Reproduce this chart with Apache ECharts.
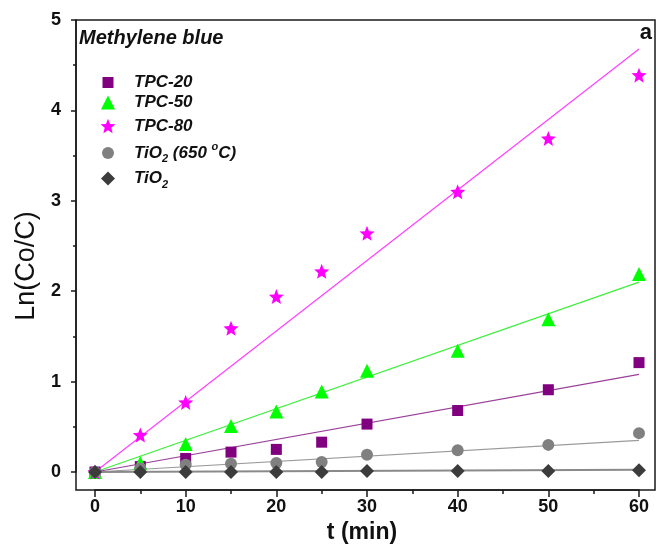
<!DOCTYPE html>
<html><head><meta charset="utf-8">
<script src="https://cdn.jsdelivr.net/npm/echarts@6/dist/echarts.min.js"></script>
<style>html,body{margin:0;padding:0;background:#fff}#c{width:659px;height:550px}</style>
</head><body><div id="c"></div>
<script>
// ---- data ----
const times = [0, 5, 10, 15, 20, 25, 30, 40, 50, 60];
const tpc20 = [0, 0.06, 0.15, 0.22, 0.25, 0.33, 0.53, 0.68, 0.91, 1.21];
const tpc50 = [0, 0.10, 0.31, 0.51, 0.67, 0.89, 1.12, 1.34, 1.69, 2.19];
const tpc80 = [0, 0.41, 0.77, 1.59, 1.94, 2.22, 2.64, 3.10, 3.69, 4.39];
const tio2650 = [0, 0.04, 0.08, 0.09, 0.10, 0.11, 0.19, 0.24, 0.30, 0.43];
const tio2 = [0, 0, 0, 0, 0, 0, 0.01, 0.01, 0.01, 0.02];
// linear fit lines (end points)
const fitTimes = [0, 60];
const fit20 = [0, 1.08];
const fit50 = [0, 2.10];
const fit80 = [0, 4.68];
const fit650 = [0, 0.35];
const fitTiO2 = [0, 0.025];
// tick labels
const xTickLabels = [0, 10, 20, 30, 40, 50, 60];
const yTickLabels = [0, 1, 2, 3, 4, 5];
const seriesNames = ['TPC-20', 'TPC-50', 'TPC-80', 'TiO2 (650 °C)', 'TiO2'];

// ---- styling ----
const STAR = 'path://M50,0L62.93,32.2L97.55,34.55L70.92,56.8L79.39,90.45L50,72L20.61,90.45L29.08,56.8L2.45,34.55L37.07,32.2Z';
const symbols = ['rect', 'triangle', STAR, 'circle', 'diamond'];
const symSizes = [11, 14, 15, 12, 14];
const colors = ['#800080', '#00ff00', '#ff00ff', '#808080', '#3c3c3c'];
const fitColors = ['#9a3f9a', '#3cf03c', '#ff40ff', '#9a9a9a', '#8a8a8a'];
const fitWidths = [1.2, 1.2, 1.2, 1.2, 2];
const legendTops = [74, 94, 117.5, 141.5, 170];
const LEGEND_ICON_CX = 108, LEGEND_TEXT_X = 134;
const FONT = 'Liberation Sans, Arial, sans-serif';
const INK = '#111';

const zip = (xs, ys) => xs.map((x, i) => [x, ys[i]]);
const pointSets = [tpc20, tpc50, tpc80, tio2650, tio2];
const fitSets = [fit20, fit50, fit80, fit650, fitTiO2];

const richMap = {
  'TPC-20': '{b|TPC-20}',
  'TPC-50': '{b|TPC-50}',
  'TPC-80': '{b|TPC-80}',
  'TiO2 (650 °C)': '{b|TiO}{s|2}{b| (650 }{p|o}{b|C)}',
  'TiO2': '{b|TiO}{s|2}'
};
const rich = {
  b: {fontSize: 17, fontWeight: 'bold', fontStyle: 'italic', fontFamily: FONT, color: INK},
  s: {fontSize: 11, fontWeight: 'bold', fontStyle: 'italic', fontFamily: FONT, color: INK, padding: [12, 0, 0, 0]},
  p: {fontSize: 11, fontWeight: 'bold', fontStyle: 'italic', fontFamily: FONT, color: INK, padding: [0, 0, 12, 0]}
};

const series = [];
seriesNames.forEach((n, i) => {
  series.push({
    name: 'fit ' + n, type: 'line', xAxisIndex: 0, yAxisIndex: 0,
    data: zip(fitTimes, fitSets[i]), showSymbol: false, symbol: 'none', clip: false,
    lineStyle: {color: fitColors[i], width: fitWidths[i]}, silent: true, z: 2
  });
});
seriesNames.forEach((n, i) => {
  series.push({
    name: n, type: 'scatter', xAxisIndex: 0, yAxisIndex: 0,
    data: zip(times, pointSets[i]), symbol: symbols[i], symbolSize: symSizes[i],
    itemStyle: {color: colors[i], opacity: 1}, clip: false, z: 3
  });
});

const legends = seriesNames.map((n, i) => ({
  data: [{name: n, icon: symbols[i]}],
  left: LEGEND_ICON_CX - symSizes[i] / 2, top: legendTops[i], padding: 0, orient: 'vertical',
  itemWidth: symSizes[i], itemHeight: symSizes[i], selectedMode: false,
  formatter: (name) => richMap[name],
  textStyle: {rich: rich, fontFamily: FONT,
              padding: [0, 0, 0, LEGEND_TEXT_X - (LEGEND_ICON_CX + symSizes[i] / 2 + 5)]}
}));

const tickStyle = {color: '#1a1a1a', width: 1.5};
const lineStyle = {color: '#1a1a1a', width: 1.5};

const option = {
  animation: false,
  backgroundColor: '#fff',
  title: [
    {text: 'Methylene blue', left: 79, top: 28, padding: 0,
     textStyle: {fontSize: 20, fontWeight: 'bold', fontStyle: 'italic', fontFamily: FONT, color: INK}},
    {text: 'a', right: 7, top: 22, padding: 0,
     textStyle: {fontSize: 22, fontWeight: 'bold', fontFamily: FONT, color: INK}}
  ],
  legend: legends,
  grid: [
    {left: 95, right: 20, top: 20, bottom: 78, containLabel: false},
    {left: 76, right: 4, top: 20, bottom: 60, show: true, borderColor: '#1a1a1a', borderWidth: 1.5, backgroundColor: 'transparent', z: 5}
  ],
  xAxis: [
    {gridIndex: 0, type: 'value', min: xTickLabels[0], max: xTickLabels[xTickLabels.length - 1],
     interval: xTickLabels[1] - xTickLabels[0], offset: 18, position: 'bottom',
     axisLine: {show: true, onZero: false, lineStyle: lineStyle}, splitLine: {show: false},
     axisTick: {show: true, inside: false, length: 7, lineStyle: tickStyle},
     minorTick: {show: true, splitNumber: 2, length: 4, lineStyle: tickStyle},
     axisLabel: {fontSize: 18, fontWeight: 'bold', fontFamily: FONT, color: INK, margin: 8},
     name: 't (min)', nameLocation: 'middle', nameGap: 30,
     nameTextStyle: {fontSize: 23, fontWeight: 'bold', fontFamily: FONT, color: INK, padding: [0, 10, 0, 0]}},
    {gridIndex: 1, type: 'value', min: 0, max: 1, show: false}
  ],
  yAxis: [
    {gridIndex: 0, type: 'value', min: yTickLabels[0], max: yTickLabels[yTickLabels.length - 1],
     interval: yTickLabels[1] - yTickLabels[0], offset: 19, position: 'left',
     axisLine: {show: true, onZero: false, lineStyle: lineStyle}, splitLine: {show: false},
     axisTick: {show: true, inside: false, length: 5, lineStyle: tickStyle},
     minorTick: {show: true, splitNumber: 2, length: 3, lineStyle: tickStyle},
     axisLabel: {fontSize: 18, fontWeight: 'bold', fontFamily: FONT, color: INK, margin: 15},
     name: 'Ln(Co/C)', nameLocation: 'middle', nameGap: 34,
     nameTextStyle: {fontSize: 27, fontFamily: FONT, color: INK, padding: [0, 40, 0, 0]}},
    {gridIndex: 1, type: 'value', min: 0, max: 1, show: false}
  ],
  series: series
};

const chart = echarts.init(document.getElementById('c'), null, {renderer: 'canvas'});
chart.setOption(option);
</script>
</body></html>
